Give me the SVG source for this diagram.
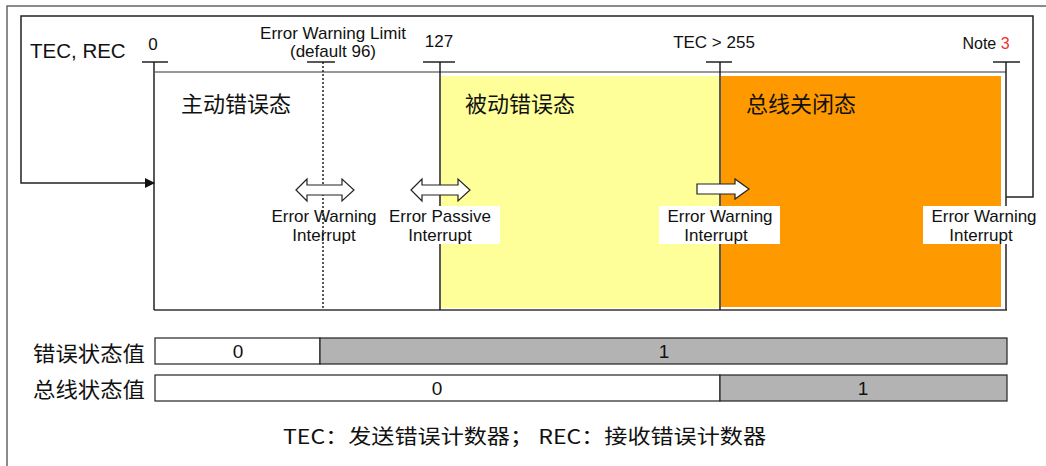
<svg xmlns="http://www.w3.org/2000/svg" width="1046" height="466" viewBox="0 0 1046 466">
<style>
.t{font-family:"Liberation Sans","Noto Sans CJK SC",sans-serif;fill:#111}
.s15{font-size:17px}
.cjk{font-family:"Noto Sans CJK SC","Liberation Sans",sans-serif;fill:#111}
.ln{stroke:#222;stroke-width:1.5;fill:none}
.arr{fill:#fff;stroke:#222;stroke-width:1.2}
</style>
<defs>
<marker id="ah" markerWidth="10" markerHeight="10" refX="9" refY="5" orient="auto" markerUnits="userSpaceOnUse">
<path d="M0,0 L10,5 L0,10 Z" fill="#111"/>
</marker>
</defs>
<rect x="0" y="0" width="1046" height="466" fill="#fff"/>
<rect x="7" y="6" width="1100" height="520" fill="none" stroke="#666" stroke-width="1.5"/>

<g id="fills">
<rect x="441" y="76" width="278" height="232" fill="#ffff99"/>
<rect x="721" y="76" width="280" height="231" fill="#ff9900"/>
</g>

<g id="frame">
<line x1="155" y1="72" x2="1006" y2="72" stroke="#333" stroke-width="1.2"/>
<line x1="154" y1="310" x2="1007" y2="310" stroke="#666" stroke-width="2"/>
<line x1="154" y1="62" x2="154" y2="310" class="ln"/>
<line x1="142" y1="62" x2="168" y2="62" class="ln"/>
<line x1="323" y1="62" x2="323" y2="310" stroke="#222" stroke-width="1.5" stroke-dasharray="2,2"/>
<line x1="307" y1="62" x2="335" y2="62" class="ln"/>
<line x1="440" y1="62" x2="440" y2="310" class="ln"/>
<line x1="423" y1="62" x2="455" y2="62" class="ln"/>
<line x1="720" y1="62" x2="720" y2="310" class="ln"/>
<line x1="706" y1="62" x2="732" y2="62" class="ln"/>
<line x1="1006" y1="62" x2="1006" y2="310" class="ln"/>
<line x1="993" y1="62" x2="1020" y2="62" class="ln"/>
</g>

<g id="connectors">
<path d="M1006,197 H1033 V16 H21 V183 H154" class="ln" marker-end="url(#ah)"/>
</g>

<g id="labels-top">
<text x="30" y="58" class="t" font-size="20.5">TEC, REC</text>
<text x="153" y="50" class="t s15" text-anchor="middle">0</text>
<text x="333" y="39" class="t s15" text-anchor="middle">Error Warning Limit</text>
<text x="333" y="57" class="t s15" text-anchor="middle">(default 96)</text>
<text x="439" y="47" class="t s15" text-anchor="middle">127</text>
<text x="714" y="48" class="t s15" text-anchor="middle">TEC &gt; 255</text>
<text x="986" y="49" class="t" font-size="16" text-anchor="middle">Note <tspan fill="#ee3333">3</tspan></text>
</g>

<g id="state-active">
<text x="181" y="112" class="cjk" font-size="22">主动错误态</text>
</g>
<g id="state-passive">
<text x="465" y="112" class="cjk" font-size="22">被动错误态</text>
</g>
<g id="state-busoff">
<text x="746" y="112" class="cjk" font-size="22">总线关闭态</text>
</g>

<g id="int-warning">
<path d="M296,190 L307,179 V185 H342 V179 L354,190 L342,201 V195 H307 V201 Z" class="arr"/>
<text x="324" y="222" class="t s15" text-anchor="middle">Error Warning</text>
<text x="324" y="241" class="t s15" text-anchor="middle">Interrupt</text>
</g>
<g id="int-passive">
<rect x="389" y="206" width="111" height="38" fill="#fff"/>
<path d="M411,190 L422,179 V185 H458 V179 L470,190 L458,201 V195 H422 V201 Z" class="arr"/>
<text x="440" y="222" class="t s15" text-anchor="middle">Error Passive</text>
<text x="440" y="241" class="t s15" text-anchor="middle">Interrupt</text>
</g>
<g id="int-busoff">
<rect x="659" y="206" width="121" height="38" fill="#fff"/>
<path d="M697,184 H735 V179 L749,189 L735,199 V194 H697 Z" class="arr"/>
<text x="720" y="222" class="t s15" text-anchor="middle">Error Warning</text>
<text x="716" y="241" class="t s15" text-anchor="middle">Interrupt</text>
</g>
<g id="int-recover">
<rect x="923" y="206" width="112" height="38" fill="#fff"/>
<text x="984" y="222" class="t s15" text-anchor="middle">Error Warning</text>
<text x="981" y="241" class="t s15" text-anchor="middle">Interrupt</text>
</g>

<g id="bar-error">
<text x="33" y="361" class="cjk" font-size="21" textLength="112" lengthAdjust="spacingAndGlyphs">错误状态值</text>
<rect x="155" y="338" width="165" height="26" fill="#fff" stroke="#222" stroke-width="1.2"/>
<rect x="320" y="338" width="687" height="26" fill="#b3b3b3" stroke="#222" stroke-width="1.2"/>
<text x="238" y="358" class="t" font-size="19" text-anchor="middle">0</text>
<text x="664" y="358" class="t" font-size="19" text-anchor="middle">1</text>
</g>
<g id="bar-bus">
<text x="33" y="397" class="cjk" font-size="21" textLength="112" lengthAdjust="spacingAndGlyphs">总线状态值</text>
<rect x="155" y="375" width="565" height="26" fill="#fff" stroke="#222" stroke-width="1.2"/>
<rect x="720" y="375" width="287" height="26" fill="#b3b3b3" stroke="#222" stroke-width="1.2"/>
<text x="437" y="395" class="t" font-size="19" text-anchor="middle">0</text>
<text x="863" y="395" class="t" font-size="19" text-anchor="middle">1</text>
</g>

<g id="footnote">
<text x="283" y="444" class="cjk" font-size="20" textLength="483" lengthAdjust="spacingAndGlyphs">TEC：发送错误计数器； REC：接收错误计数器</text>
</g>
</svg>
